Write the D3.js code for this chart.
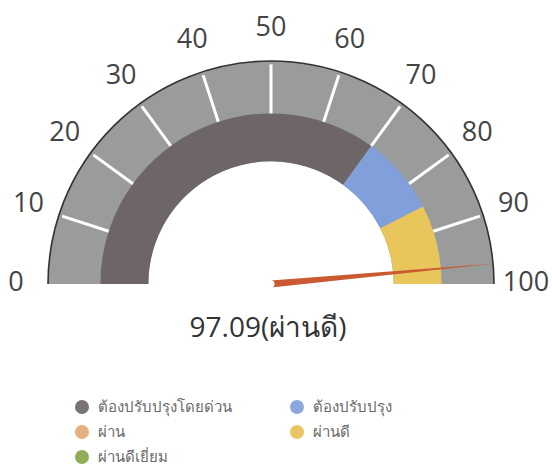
<!DOCTYPE html>
<html>
<head>
<meta charset="utf-8">
<script src="https://cdn.jsdelivr.net/npm/d3@7"></script>
<style>
  body { margin: 0; background: #fff; }
  svg { display: block; font-family: "Open Sans", "Noto Sans", sans-serif; }
</style>
</head>
<body>
<svg width="552" height="471"></svg>
<script>
var tickValues = [0, 10, 20, 30, 40, 50, 60, 70, 80, 90, 100];
var bandStart = [0, 70, 85];
var bandEnd = [70, 85, 100];
var bandColors = ["#6e6666", "#819fdb", "#e9c65c"];
var score = 97.09;
var scoreLabel = "ผ่านดี";
var legendLabels = ["ต้องปรับปรุงโดยด่วน", "ต้องปรับปรุง", "ผ่าน", "ผ่านดี", "ผ่านดีเยี่ยม"];
var legendColors = ["#7a7373", "#8ba8dc", "#e9b07f", "#e8c862", "#8fae57"];

var svg = d3.select("svg"),
    cx = 271,
    cy = 284,
    R = 223;

var angle = d3.scaleLinear().domain([0, 100]).range([-Math.PI / 2, Math.PI / 2]);

var g = svg.append("g").attr("transform", "translate(" + cx + "," + cy + ")");

// grey outer band
g.append("path")
    .attr("d", d3.arc()({innerRadius: 0.55 * R, outerRadius: R, startAngle: angle(0), endAngle: angle(100)}))
    .attr("fill", "#9a9b9b");

// coloured inner band
var bandArc = d3.arc().innerRadius(0.55 * R).outerRadius(0.765 * R);
g.selectAll(".band")
    .data(bandStart)
    .enter().append("path")
      .attr("class", "band")
      .attr("d", function(d, i) { return bandArc({startAngle: angle(d), endAngle: angle(bandEnd[i])}); })
      .attr("fill", function(d, i) { return bandColors[i]; });

// outer rim line
g.append("path")
    .attr("d", d3.arc()({innerRadius: R, outerRadius: R, startAngle: angle(0), endAngle: angle(100)}))
    .attr("fill", "none")
    .attr("stroke", "#333")
    .attr("stroke-width", 1.6);

// white ticks
g.selectAll(".tick")
    .data(tickValues.slice(1, -1))
    .enter().append("line")
      .attr("class", "tick")
      .attr("x1", function(d) { return 0.765 * R * Math.sin(angle(d)); })
      .attr("y1", function(d) { return -0.765 * R * Math.cos(angle(d)); })
      .attr("x2", function(d) { return 0.985 * R * Math.sin(angle(d)); })
      .attr("y2", function(d) { return -0.985 * R * Math.cos(angle(d)); })
      .attr("stroke", "#fff")
      .attr("stroke-width", 3);

// tick labels
g.selectAll(".lbl")
    .data(tickValues)
    .enter().append("text")
      .attr("class", "lbl")
      .attr("x", function(d) { return 255 * Math.sin(angle(d)); })
      .attr("y", function(d) { return -255 * Math.cos(angle(d)) - 4; })
      .attr("text-anchor", "middle")
      .attr("dominant-baseline", "central")
      .attr("font-size", 27)
      .attr("fill", "#444")
      .text(function(d) { return d; });

// needle
var a = angle(score), w = 3.6, len = R + 2;
var tipX = len * Math.sin(a), tipY = -len * Math.cos(a);
var px = Math.cos(a), py = Math.sin(a);
g.append("path")
    .attr("d", "M" + (w * px) + "," + (w * py) +
               "L" + tipX + "," + tipY +
               "L" + (-w * px) + "," + (-w * py) +
               "A" + w + "," + w + " 0 0 1 " + (w * px) + "," + (w * py) + "Z")
    .attr("fill", "#c95a32");

// score text
svg.append("text")
    .attr("x", 268)
    .attr("y", 337)
    .attr("text-anchor", "middle")
    .attr("font-size", 28)
    .attr("fill", "#333")
    .text(score + "(" + scoreLabel + ")");

// legend
var legend = svg.selectAll(".legend")
    .data(legendLabels)
    .enter().append("g")
      .attr("class", "legend")
      .attr("transform", function(d, i) {
        return "translate(" + (i % 2 ? 297 : 82) + "," + (407 + Math.floor(i / 2) * 25) + ")";
      });

legend.append("circle")
    .attr("r", 7)
    .attr("fill", function(d, i) { return legendColors[i]; });

legend.append("text")
    .attr("x", 16)
    .attr("dy", "0.35em")
    .attr("font-size", 15)
    .attr("fill", "#6a6a6a")
    .text(function(d) { return d; });
</script>
</body>
</html>
